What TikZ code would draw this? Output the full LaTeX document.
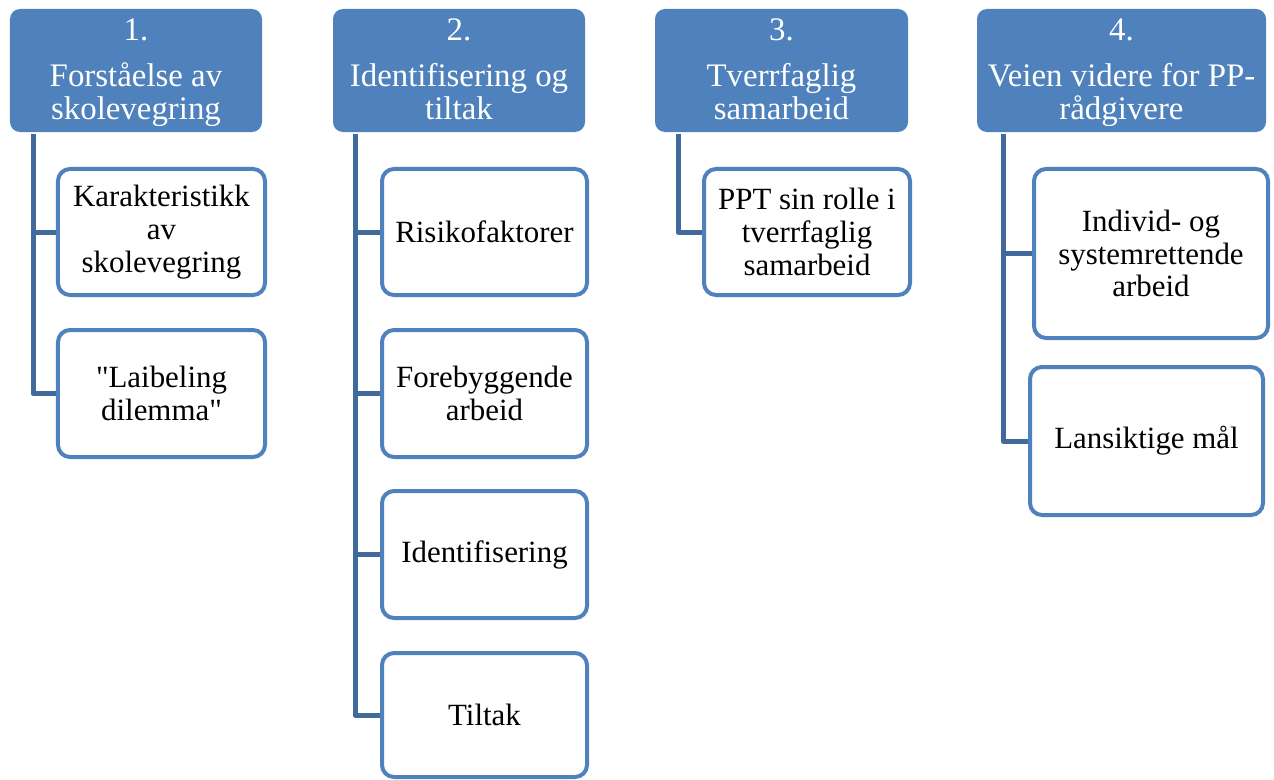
\documentclass[tikz,border=0pt]{standalone}
\usepackage{fontspec}
\setmainfont{Liberation Serif}[Ligatures=TeXOff]
\definecolor{accent}{HTML}{4F81BD}
\definecolor{spine}{HTML}{42699B}
\newcommand\lastln[1]{\raisebox{0pt}[\height][2.3pt]{#1}}
\begin{document}
\begin{tikzpicture}[x=1bp,y=-1bp,
  head/.style={rounded corners=10bp, fill=accent, text=white, align=center,
    font=\fontsize{33}{33}\selectfont, inner sep=0pt},
  leaf/.style={draw=accent, line width=4bp, rounded corners=12bp, fill=white,
    align=center, font=\fontsize{31}{33}\selectfont, inner sep=0pt},
  conn/.style={draw=spine, line width=5bp, line join=round}]
\useasboundingbox (0,0) rectangle (1274,780);

% headers
\node[head, minimum width=252bp, minimum height=123bp] (h1) at (136,70.5)
  {1.\\[13pt]Forståelse av\\\lastln{skolevegring}};
\node[head, minimum width=252bp, minimum height=123bp] (h2) at (459,70.5)
  {2.\\[13pt]Identifisering og\\\lastln{tiltak}};
\node[head, minimum width=253bp, minimum height=123bp] (h3) at (781.5,70.5)
  {3.\\[13pt]Tverrfaglig\\\lastln{samarbeid}};
\node[head, minimum width=289bp, minimum height=123bp] (h4) at (1121.5,70.5)
  {4.\\[13pt]Veien videre for PP-\\\lastln{rådgivere}};

% spine tops
\coordinate (s1) at (33,134);
\coordinate (s2) at (355,134);
\coordinate (s3) at (678,134);
\coordinate (s4) at (1003,134);

% leaves
\node[leaf, minimum width=207bp, minimum height=126bp] (a1) at (161.5,232)
  {Karakteristikk\\av\\skolevegring};
\node[leaf, minimum width=207bp, minimum height=127bp] (a2) at (161.5,393.5)
  {"Laibeling\\dilemma"};

\node[leaf, minimum width=205bp, minimum height=126bp] (b1) at (484.5,232)
  {Risikofaktorer};
\node[leaf, minimum width=205bp, minimum height=127bp] (b2) at (484.5,393.5)
  {Forebyggende\\arbeid};
\node[leaf, minimum width=205bp, minimum height=127bp] (b3) at (484.5,554.5)
  {Identifisering};
\node[leaf, minimum width=205bp, minimum height=124bp] (b4) at (484.5,715)
  {Tiltak};

\node[leaf, minimum width=206bp, minimum height=126bp] (c1) at (807,232)
  {PPT sin rolle i\\tverrfaglig\\samarbeid};

\node[leaf, minimum width=234bp, minimum height=169bp] (d1) at (1151,253.5)
  {Individ- og\\systemrettende\\arbeid};
\node[leaf, minimum width=233bp, minimum height=148bp] (d2) at (1146.5,441)
  {Lansiktige mål};

% connectors
\draw[conn] (s1) |- (a1.west);
\draw[conn] (s1) |- (a2.west);
\draw[conn] (s2) |- (b1.west);
\draw[conn] (s2) |- (b2.west);
\draw[conn] (s2) |- (b3.west);
\draw[conn] (s2) |- (b4.west);
\draw[conn] (s3) |- (c1.west);
\draw[conn] (s4) |- (d1.west);
\draw[conn] (s4) |- (d2.west);
\end{tikzpicture}
\end{document}
